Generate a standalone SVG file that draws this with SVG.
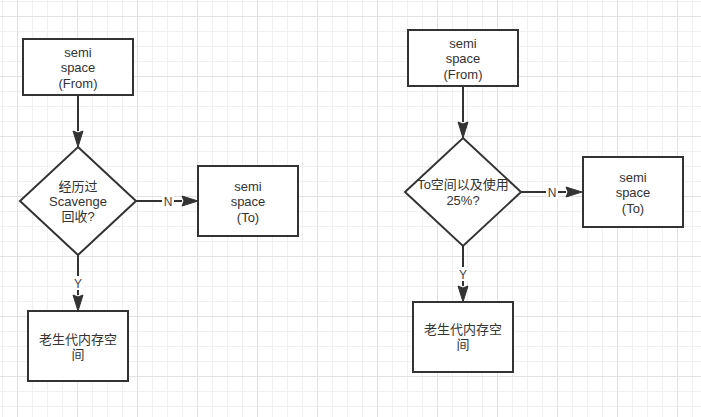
<svg xmlns="http://www.w3.org/2000/svg" width="701" height="417" viewBox="0 0 701 417">
<style>
.box{fill:#fff;stroke:#333;stroke-width:2}
.edge{fill:none;stroke:#333;stroke-width:2}
.t{font-family:'Liberation Sans','Noto Sans CJK SC',sans-serif;font-size:13px;fill:#333;text-anchor:middle}
.lbl{font-family:'Liberation Sans','Noto Sans CJK SC',sans-serif;font-size:12px;fill:#444;text-anchor:middle}
.lb{fill:#fff}
</style>
<defs>
<pattern id="grid" patternUnits="userSpaceOnUse" x="17" y="16" width="60" height="60">
<rect x="0" y="0" width="60" height="60" fill="#fff"/>
<rect x="15" y="0" width="1" height="60" fill="#f0f0f0"/>
<rect x="30" y="0" width="1" height="60" fill="#f0f0f0"/>
<rect x="45" y="0" width="1" height="60" fill="#f0f0f0"/>
<rect x="0" y="15" width="60" height="1" fill="#f0f0f0"/>
<rect x="0" y="30" width="60" height="1" fill="#f0f0f0"/>
<rect x="0" y="45" width="60" height="1" fill="#f0f0f0"/>
<rect x="0" y="0" width="1" height="60" fill="#e2e2e2"/>
<rect x="0" y="0" width="60" height="1" fill="#e2e2e2"/>
</pattern>
<marker id="arr" markerUnits="userSpaceOnUse" markerWidth="18" markerHeight="12" refX="0" refY="5" orient="auto" overflow="visible">
<path d="M0,0 L16,5 L0,10 L2,5 Z" fill="#333" stroke="#333" stroke-width="1"/>
</marker>
</defs>
<rect x="0" y="0" width="701" height="417" fill="url(#grid)"/>

<g id="connectors">
<path class="edge" d="M78,95 L78,131" marker-end="url(#arr)"/>
<path class="edge" d="M136,201 L182,201" marker-end="url(#arr)"/>
<path class="edge" d="M78,255 L78,295" marker-end="url(#arr)"/>
<path class="edge" d="M463,86 L463,122" marker-end="url(#arr)"/>
<path class="edge" d="M521,192 L566,192" marker-end="url(#arr)"/>
<path class="edge" d="M463,246 L463,286" marker-end="url(#arr)"/>
<rect class="lb" x="162" y="194" width="12" height="14"/>
<text class="lbl" x="168" y="205.5">N</text>
<rect class="lb" x="72" y="276" width="12" height="14"/>
<text class="lbl" x="78" y="287.5">Y</text>
<rect class="lb" x="546" y="185" width="12" height="14"/>
<text class="lbl" x="552" y="196.5">N</text>
<rect class="lb" x="457" y="267" width="12" height="14"/>
<text class="lbl" x="463" y="278.5">Y</text>
</g>

<g id="left-from">
<rect class="box" x="23" y="39" width="110" height="56"/>
<text class="t" x="78" y="57">semi</text>
<text class="t" x="78" y="72">space</text>
<text class="t" x="78" y="87.5">(From)</text>
</g>
<g id="left-decision">
<path class="box" d="M78,147 L136,201 L78,255 L20,201 Z"/>
<text class="t" x="78" y="190.5">经历过</text>
<text class="t" x="78" y="205.5">Scavenge</text>
<text class="t" x="78" y="220.5">回收?</text>
</g>
<g id="left-to">
<rect class="box" x="198" y="166" width="100" height="70"/>
<text class="t" x="248" y="190.5">semi</text>
<text class="t" x="248" y="206">space</text>
<text class="t" x="248" y="221.5">(To)</text>
</g>
<g id="left-old">
<rect class="box" x="28" y="311" width="100" height="70"/>
<text class="t" x="78" y="343.5">老生代内存空</text>
<text class="t" x="78" y="358.5">间</text>
</g>

<g id="right-from">
<rect class="box" x="408" y="30" width="110" height="56"/>
<text class="t" x="463" y="47.5">semi</text>
<text class="t" x="463" y="63">space</text>
<text class="t" x="463" y="78.5">(From)</text>
</g>
<g id="right-decision">
<path class="box" d="M463,138 L521,192 L463,246 L405,192 Z"/>
<text class="t" x="463" y="189">To空间以及使用</text>
<text class="t" x="463" y="204.5">25%?</text>
</g>
<g id="right-to">
<rect class="box" x="583" y="157" width="100" height="70"/>
<text class="t" x="633" y="181.5">semi</text>
<text class="t" x="633" y="197">space</text>
<text class="t" x="633" y="212.5">(To)</text>
</g>
<g id="right-old">
<rect class="box" x="413" y="302" width="100" height="70"/>
<text class="t" x="463" y="334">老生代内存空</text>
<text class="t" x="463" y="349">间</text>
</g>
</svg>
